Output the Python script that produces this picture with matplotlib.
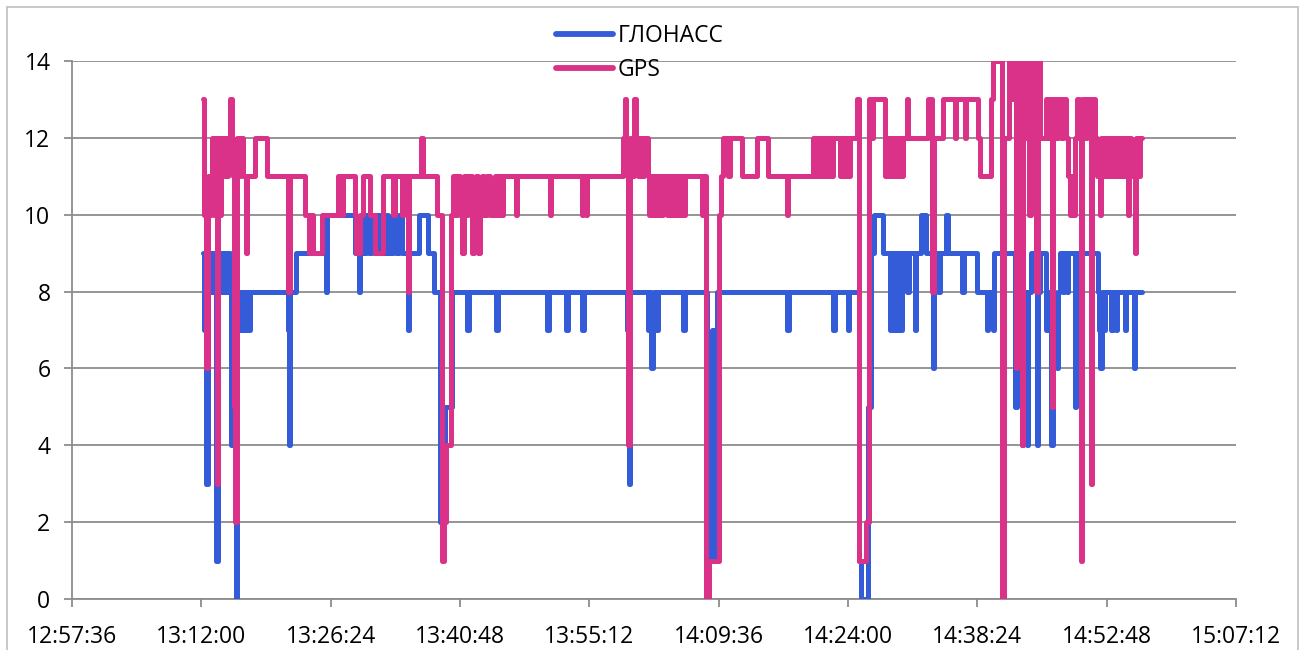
import matplotlib
matplotlib.use("Agg")
import matplotlib.pyplot as plt
from matplotlib.patches import Rectangle
from matplotlib.ticker import FixedLocator, FuncFormatter

# time of each change, minutes after 13:00:00 ; value that holds from there on
glonass_t = [12.17, 12.28, 12.39, 12.56, 12.72, 12.89, 13.11, 13.22, 13.45, 13.67,
             13.84, 14.00, 14.11, 14.34, 14.56, 14.78, 15.01, 15.23, 15.34, 15.51,
             15.84, 16.01, 16.35, 16.46, 16.57, 16.68, 16.90, 17.01, 17.23, 17.46,
             21.63, 21.80, 21.91, 22.58, 25.58, 25.86, 26.03, 29.15, 29.54, 29.65,
             29.93, 30.15, 30.37, 30.71, 30.93, 31.26, 31.60, 31.93, 32.60, 32.83,
             33.38, 33.72, 34.05, 34.39, 35.00, 35.17, 36.28, 37.28, 37.90, 38.62,
             38.79, 39.12, 39.90, 41.62, 41.85, 44.85, 45.02, 50.53, 50.75, 52.64,
             52.86, 54.42, 54.64, 59.43, 59.59, 59.76, 61.76, 61.99, 62.10, 62.26,
             62.43, 62.65, 62.88, 65.66, 65.82, 68.27, 68.83, 69.16, 69.44, 77.23,
             77.40, 82.35, 82.52, 83.97, 84.14, 85.19, 85.47, 86.25, 86.58, 86.92,
             87.92, 88.70, 88.86, 89.03, 89.25, 89.48, 89.70, 89.81, 90.03, 90.59,
             90.81, 91.42, 91.59, 92.15, 92.70, 93.42, 93.59, 94.04, 94.26, 94.93,
             95.15, 96.71, 96.88, 98.38, 99.44, 99.61, 100.11, 100.27, 102.61, 102.84,
             103.34, 103.50, 103.89, 104.06, 104.39, 105.00, 105.17, 105.39, 106.06, 106.17,
             106.39, 106.62, 106.78, 107.06, 107.23, 107.39, 107.62, 107.95, 108.06, 108.40,
             108.51, 109.23, 109.40, 111.85, 111.90, 112.07, 112.24, 112.40, 112.63, 113.29,
             113.46, 113.80, 113.96, 114.85, 114.96, 115.80, 115.96, 116.74]
glonass_v = [9, 7, 9, 3, 8, 9, 8, 9, 8, 1,
             9, 8, 9, 8, 9, 8, 9, 8, 4, 8,
             0, 8, 7, 8, 7, 8, 7, 8, 7, 8,
             7, 4, 8, 9, 10, 8, 10, 9, 8, 9,
             10, 9, 10, 9, 10, 9, 10, 9, 10, 9,
             10, 9, 10, 9, 7, 9, 10, 9, 8, 2,
             4, 5, 8, 7, 8, 7, 8, 7, 8, 7,
             8, 7, 8, 7, 3, 8, 7, 8, 6, 7,
             8, 7, 8, 7, 8, 1, 7, 1, 8, 7,
             8, 7, 8, 7, 8, 1, 0, 5, 9, 10,
             9, 7, 9, 7, 9, 7, 9, 7, 9, 8,
             9, 7, 9, 10, 9, 6, 9, 8, 9, 10,
             9, 8, 9, 8, 7, 8, 7, 9, 5, 9,
             4, 8, 4, 8, 9, 4, 8, 9, 7, 8,
             7, 4, 8, 7, 6, 8, 9, 8, 9, 8,
             9, 5, 9, 8, 7, 6, 8, 7, 8, 7,
             8, 7, 8, 7, 8, 6, 8, 8]

gps_t = [12.17, 12.28, 12.50, 12.72, 12.89, 13.06, 13.22, 13.39, 13.56, 13.73,
         13.89, 14.06, 14.23, 14.39, 14.56, 14.78, 15.01, 15.23, 15.39, 15.56,
         15.62, 15.78, 15.95, 16.12, 16.35, 16.68, 16.96, 17.12, 17.96, 19.30,
         21.69, 21.86, 23.58, 24.03, 24.25, 24.47, 25.47, 27.25, 27.59, 27.81,
         29.09, 29.20, 29.65, 29.98, 30.82, 31.37, 32.26, 33.38, 33.60, 34.39,
         34.61, 35.00, 35.17, 36.51, 36.73, 38.23, 38.84, 39.00, 39.23, 39.78,
         40.00, 40.27, 40.49, 40.83, 41.05, 41.22, 41.50, 41.72, 42.17, 42.39,
         42.61, 42.83, 43.00, 43.28, 43.50, 43.83, 44.17, 44.72, 44.95, 45.17,
         45.39, 45.62, 47.01, 47.17, 50.80, 50.97, 54.36, 54.53, 54.81, 54.98,
         58.99, 59.15, 59.32, 59.43, 59.54, 59.76, 59.99, 60.21, 60.43, 60.66,
         60.88, 61.10, 61.32, 61.76, 61.88, 62.10, 62.21, 62.43, 62.54, 62.77,
         62.88, 63.10, 63.32, 63.43, 63.88, 64.10, 64.33, 64.55, 64.77, 65.00,
         65.22, 65.44, 65.66, 65.89, 67.72, 67.89, 68.22, 68.49, 69.66, 69.83,
         70.11, 70.67, 70.89, 72.17, 73.89, 75.12, 77.17, 77.34, 80.13, 80.35,
         80.57, 80.80, 81.02, 81.24, 81.47, 81.69, 81.91, 82.13, 82.35, 83.13,
         83.36, 83.58, 83.80, 84.02, 84.19, 85.03, 85.25, 86.03, 86.36, 86.58,
         86.81, 88.09, 88.37, 88.59, 88.81, 89.03, 89.25, 89.48, 89.70, 89.92,
         90.14, 90.53, 90.70, 92.93, 93.37, 93.59, 94.59, 95.87, 96.04, 96.98,
         97.15, 98.49, 98.71, 99.93, 100.16, 101.16, 101.38, 101.94, 102.16, 102.38,
         102.66, 102.83, 103.34, 103.50, 103.73, 103.95, 104.17, 104.34, 104.51, 104.73,
         104.95, 105.12, 105.39, 106.06, 106.28, 106.51, 106.67, 106.84, 107.17, 107.39,
         107.73, 107.95, 108.28, 108.45, 108.67, 108.84, 109.06, 109.29, 109.51, 109.73,
         109.90, 110.07, 110.40, 110.62, 111.01, 111.18, 111.51, 111.74, 112.01, 112.18,
         112.40, 112.63, 112.85, 113.07, 113.29, 113.52, 113.74, 113.96, 114.19, 114.41,
         114.63, 114.85, 115.13, 115.30, 115.52, 115.91, 116.08, 116.30, 116.52, 116.74]
gps_v = [13, 10, 6, 11, 10, 11, 12, 10, 12, 3,
         12, 10, 12, 11, 12, 11, 12, 13, 12, 11,
         5, 2, 12, 11, 12, 11, 9, 11, 12, 11,
         8, 11, 10, 9, 10, 9, 10, 11, 10, 11,
         10, 9, 10, 11, 10, 9, 11, 10, 11, 10,
         11, 8, 11, 12, 11, 10, 1, 2, 4, 10,
         11, 10, 11, 10, 9, 11, 10, 11, 9, 10,
         11, 9, 10, 11, 10, 11, 10, 11, 10, 11,
         10, 11, 10, 11, 10, 11, 10, 11, 10, 11,
         12, 13, 12, 11, 4, 12, 11, 13, 12, 11,
         12, 11, 12, 11, 10, 11, 10, 11, 10, 11,
         10, 11, 10, 11, 10, 11, 10, 11, 10, 11,
         10, 11, 10, 11, 10, 11, 0, 1, 10, 11,
         12, 11, 12, 11, 12, 11, 10, 11, 12, 11,
         12, 11, 12, 11, 12, 11, 12, 11, 12, 11,
         12, 11, 12, 11, 12, 13, 1, 2, 13, 12,
         13, 11, 12, 11, 12, 11, 12, 11, 12, 11,
         12, 13, 12, 13, 8, 12, 13, 12, 13, 12,
         13, 12, 11, 13, 14, 0, 12, 14, 13, 14,
         6, 14, 4, 14, 12, 14, 10, 14, 12, 14,
         8, 14, 12, 13, 12, 13, 5, 13, 12, 13,
         12, 13, 12, 11, 10, 11, 10, 12, 13, 12,
         1, 13, 12, 13, 3, 13, 12, 11, 10, 12,
         11, 12, 11, 12, 11, 12, 11, 12, 11, 12,
         11, 12, 10, 12, 11, 9, 12, 11, 12, 12]

series_names = ["ГЛОНАСС", "GPS"]
x_ticks = [-2.4, 12.0, 26.4, 40.8, 55.2, 69.6, 84.0, 98.4, 112.8, 127.2]
y_ticks = [0, 2, 4, 6, 8, 10, 12, 14]


def clock(m, pos=None):
    s = int(round((13 * 60 + m) * 60))
    return "%d:%02d:%02d" % (s // 3600, s // 60 % 60, s % 60)


plt.rcParams["font.family"] = ["Open Sans", "DejaVu Sans"]
fig = plt.figure(figsize=(13.07, 6.5), dpi=100)
W, H = 1307, 650
ax = fig.add_axes([72 / W, 1 - 599 / H, (1236 - 72) / W, (599 - 61) / H])

blue = "#345bd8"
pink = "#da3289"
ax.plot(glonass_t, glonass_v, drawstyle="steps-post", color=blue, lw=3.6,
        solid_capstyle="round", solid_joinstyle="round", label=series_names[0], zorder=3)
ax.plot(gps_t, gps_v, drawstyle="steps-post", color=pink, lw=3.6,
        solid_capstyle="round", solid_joinstyle="round", label=series_names[1], zorder=4)

ax.set_xlim(x_ticks[0], x_ticks[-1])
ax.set_ylim(0, 14)
ax.xaxis.set_major_locator(FixedLocator(x_ticks))
ax.xaxis.set_major_formatter(FuncFormatter(clock))
ax.set_yticks(y_ticks)

grid_c = "#8c8c8c"
ax.yaxis.grid(True, color=grid_c, lw=1.3, zorder=0)
ax.set_axisbelow(True)
for side in ["top", "right"]:
    ax.spines[side].set_visible(False)
for side in ["left", "bottom"]:
    ax.spines[side].set_color(grid_c)
    ax.spines[side].set_linewidth(1.3)
ax.tick_params(axis="both", colors=grid_c, labelcolor="black", labelsize=16.5,
               length=5.5, width=1.3, direction="out")
ax.tick_params(axis="x", pad=13)
ax.tick_params(axis="y", pad=10)

leg = fig.legend(loc="upper left", bbox_to_anchor=(556 / W, 1 - 24 / H),
                 bbox_transform=fig.transFigure, frameon=False, fontsize=16.5,
                 handlelength=2.5, handletextpad=0.2, labelspacing=0.45,
                 borderpad=0, borderaxespad=0)
for line in leg.get_lines():
    line.set_linewidth(4.2)
    line.set_solid_capstyle("round")

fig.patches.append(Rectangle((7 / W, -0.05), (1298 - 7) / W, 1.05 - 7 / H,
                             transform=fig.transFigure, fill=False,
                             edgecolor="#bfbfbf", lw=1.2))

fig.savefig("out.png", dpi=100)
